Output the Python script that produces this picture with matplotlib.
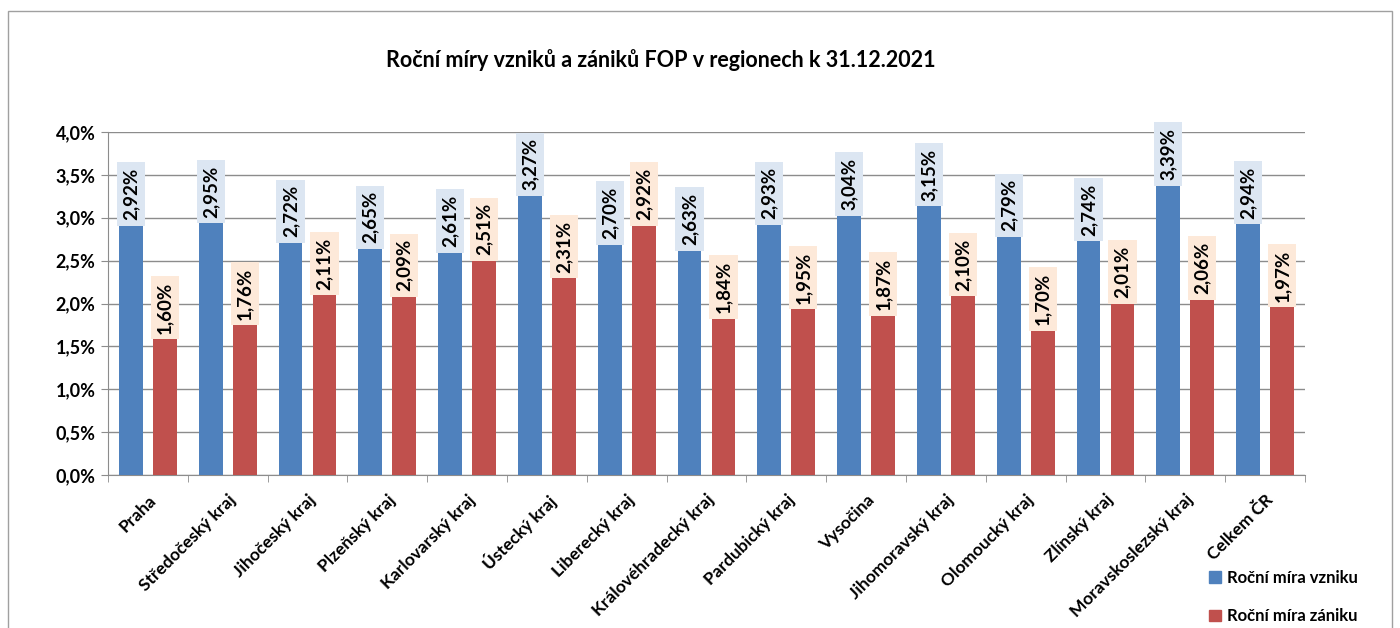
import numpy as np
import matplotlib.pyplot as plt
from matplotlib.patches import Rectangle

regions = ['Praha', 'Středočeský kraj', 'Jihočeský kraj', 'Plzeňský kraj', 'Karlovarský kraj',
           'Ústecký kraj', 'Liberecký kraj', 'Královéhradecký kraj', 'Pardubický kraj', 'Vysočina',
           'Jihomoravský kraj', 'Olomoucký kraj', 'Zlínský kraj', 'Moravskoslezský kraj', 'Celkem ČR']
vznik = [2.92, 2.95, 2.72, 2.65, 2.61, 3.27, 2.70, 2.63, 2.93, 3.04, 3.15, 2.79, 2.74, 3.39, 2.94]
zanik = [1.60, 1.76, 2.11, 2.09, 2.51, 2.31, 2.92, 1.84, 1.95, 1.87, 2.10, 1.70, 2.01, 2.06, 1.97]
yticks = [0.0, 0.5, 1.0, 1.5, 2.0, 2.5, 3.0, 3.5, 4.0]

plt.rcParams['font.family'] = ['Lato', 'DejaVu Sans']
plt.rcParams['font.weight'] = 'bold'

blue = '#4f81bd'
red = '#c0504d'

fig = plt.figure(figsize=(14, 6.28), dpi=100)
fig.patches.append(Rectangle((8/1400, -0.1), 1384/1400, 1.1 - 11/628, transform=fig.transFigure,
                             fill=False, edgecolor='#a0a0a0', linewidth=1))
ax = fig.add_axes([108/1400, 1 - 475/628, (1305 - 108)/1400, (475 - 132)/628])

x = np.arange(len(regions))
w = 0.30
off = 0.213
ax.bar(x - off, vznik, w, color=blue, zorder=3)
ax.bar(x + off, zanik, w, color=red, zorder=3)

def fmt(v):
    return f'{v:.2f}%'.replace('.', ',')

for xi, v in zip(x, vznik):
    ax.text(xi - off, v + 0.05, fmt(v), rotation=90, ha='center', va='bottom', fontsize=13.5,
            fontweight='bold', zorder=4,
            bbox=dict(boxstyle='square,pad=0.3', fc='#dce6f2', ec='none'))
for xi, v in zip(x, zanik):
    ax.text(xi + off, v + 0.05, fmt(v), rotation=90, ha='center', va='bottom', fontsize=13.5,
            fontweight='bold', zorder=4,
            bbox=dict(boxstyle='square,pad=0.3', fc='#fde9d9', ec='none'))

ax.set_xlim(-0.5, len(regions) - 0.5)
ax.set_ylim(0, 4.0)
ax.set_yticks(yticks)
ax.set_yticklabels([f'{t:.1f}%'.replace('.', ',') for t in yticks], fontsize=13, fontweight='bold')
ax.yaxis.grid(True, color='#8c8c8c', linewidth=1, zorder=0)
ax.set_axisbelow(True)

ax.set_xticks(x)
ax.set_xticklabels(regions, rotation=45, ha='right', rotation_mode='anchor', fontsize=12.5,
                   fontweight='bold')
ax.set_xticks(np.arange(len(regions) + 1) - 0.5, minor=True)
ax.tick_params(axis='x', which='major', length=0, pad=12)
ax.tick_params(axis='x', which='minor', length=5, color='#8c8c8c', direction='out')
ax.tick_params(axis='y', length=5, color='#8c8c8c', direction='out', pad=4)

for s in ['top', 'right']:
    ax.spines[s].set_visible(False)
for s in ['left', 'bottom']:
    ax.spines[s].set_color('#8c8c8c')

fig.text(661/1400, 1 - 60/628, 'Roční míry vzniků a zániků FOP v regionech k 31.12.2021',
         ha='center', va='center', fontsize=15.5, fontweight='bold')

fig.legend(handles=[Rectangle((0, 0), 1, 1, color=blue), Rectangle((0, 0), 1, 1, color=red)],
           labels=['Roční míra vzniku', 'Roční míra zániku'], loc='lower left',
           bbox_to_anchor=(1194/1400, -0.018), frameon=False,
           handlelength=0.7, handleheight=0.7, handletextpad=0.4, labelspacing=1.35,
           prop={'weight': 'bold', 'size': 12})

fig.savefig('out.png', dpi=100)
